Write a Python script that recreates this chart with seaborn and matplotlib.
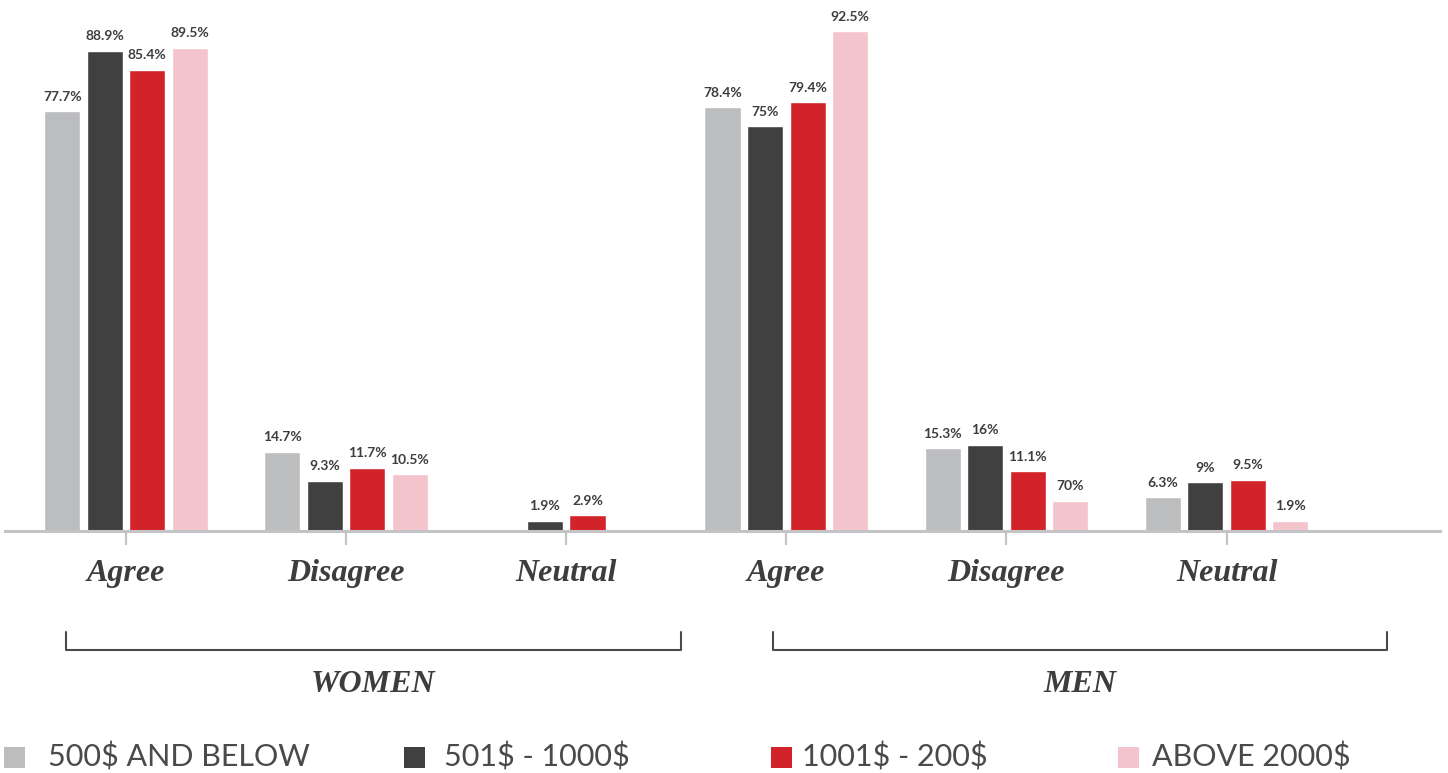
#!/usr/bin/env python
# -*- coding: utf-8 -*-

"""
Grouped bar chart: agreement by income bracket, women vs men.
"""
import sys
import numpy as np
import pandas as pd
import matplotlib
matplotlib.use("Agg")
import matplotlib.pyplot as plt
from matplotlib.lines import Line2D
from matplotlib.patches import Rectangle
import seaborn as sns

# Data #

categories = ["W Agree", "W Disagree", "W Neutral", "M Agree", "M Disagree", "M Neutral"]
tick_labels = ["Agree", "Disagree", "Neutral", "Agree", "Disagree", "Neutral"]
series = ["500$ AND BELOW", "501$ - 1000$", "1001$ - 200$", "ABOVE 2000$"]

low_vals = [77.7, 14.7, np.nan, 78.4, 15.3, 6.3]
mid_vals = [88.9, 9.3, 1.9, 75.0, 16.0, 9.0]
high_vals = [85.4, 11.7, 2.9, 79.4, 11.1, 9.5]
top_vals = [89.5, 10.5, np.nan, 92.5, 5.6, 1.9]

low_labels = ["77.7%", "14.7%", "", "78.4%", "15.3%", "6.3%"]
mid_labels = ["88.9%", "9.3%", "1.9%", "75%", "16%", "9%"]
high_labels = ["85.4%", "11.7%", "2.9%", "79.4%", "11.1%", "9.5%"]
top_labels = ["89.5%", "10.5%", "", "92.5%", "70%", "1.9%"]

group_names = ["WOMEN", "MEN"]

colors = ["#bcbdbf", "#404040", "#d2232a", "#f4c4cc"]
TEXT = "#3d3d3d"

W, H = 1448, 773


def build_frame():
    rows = []
    for name, vals, labs in zip(series, [low_vals, mid_vals, high_vals, top_vals],
                                [low_labels, mid_labels, high_labels, top_labels]):
        for cat, v, lab in zip(categories, vals, labs):
            if not np.isnan(v):
                rows.append({"cat": cat, "series": name, "value": v, "label": lab})
    return pd.DataFrame(rows)


def fx(px):
    return px / W


def fy(py):
    return 1 - py / H


def plot_chart(df):
    sns.set_style("white")
    fig = plt.figure(figsize=(W / 100, H / 100), dpi=100)
    ax = fig.add_axes([fx(5), fy(531), fx(1435), 531 / H])

    sns.barplot(data=df, x="cat", y="value", hue="series", order=categories,
                hue_order=series, palette=colors, width=0.773, gap=0.15,
                errorbar=None, legend=False, ax=ax, saturation=1)

    # value labels
    for cont, name in zip(ax.containers, series):
        sub = df[df["series"] == name].copy()
        sub["pos"] = sub["cat"].map({c: i for i, c in enumerate(categories)})
        sub = sub.sort_values("pos")
        ax.bar_label(cont, labels=list(sub["label"]), padding=6, fontsize=10,
                     fontweight="bold", color=TEXT, family="Lato")

    ax.set_xlim(-0.55, 5.97)
    ax.set_ylim(0, 98.3)
    ax.set_xlabel("")
    ax.set_ylabel("")
    ax.set_yticks([])
    for side in ["top", "right", "left"]:
        ax.spines[side].set_visible(False)
    ax.spines["bottom"].set_color("#c4c4c6")
    ax.spines["bottom"].set_linewidth(2.2)
    ax.set_xticks(range(len(categories)))
    ax.set_xticklabels(tick_labels, family="Liberation Serif", fontweight="bold",
                       style="italic", fontsize=23, color=TEXT)
    ax.tick_params(axis="x", direction="out", length=10, width=1.6,
                   color="#c4c4c6", pad=10, bottom=True)

    # group brackets
    for x0, x1, name in [(66, 681, group_names[0]), (773, 1387, group_names[1])]:
        fig.add_artist(Line2D([fx(x0), fx(x0), fx(x1), fx(x1)],
                              [fy(632), fy(650), fy(650), fy(632)],
                              transform=fig.transFigure, color="#4a4a4a", lw=1.5))
        fig.text(fx((x0 + x1) / 2), fy(684), name, ha="center", va="center",
                 family="Liberation Serif", fontweight="bold", style="italic",
                 fontsize=23, color=TEXT)

    # legend
    sq_x = [4, 404, 771, 1118]
    txt_x = [48, 444, 802, 1152]
    for sx, tx, name, col in zip(sq_x, txt_x, series, colors):
        fig.add_artist(Rectangle((fx(sx), fy(768)), fx(21), 21 / H,
                                 transform=fig.transFigure, color=col, lw=0))
        fig.text(fx(tx), fy(757), name, ha="left", va="center", family="Lato",
                 fontweight="normal", fontsize=22, color="#4a4a4a",
                 parse_math=False)

    fig.savefig("out.png", dpi=100)
    print("Wrote file: out.png")


def main():
    plot_chart(build_frame())
    return 0


if __name__ == '__main__':
    status = main()
    sys.exit(status)
